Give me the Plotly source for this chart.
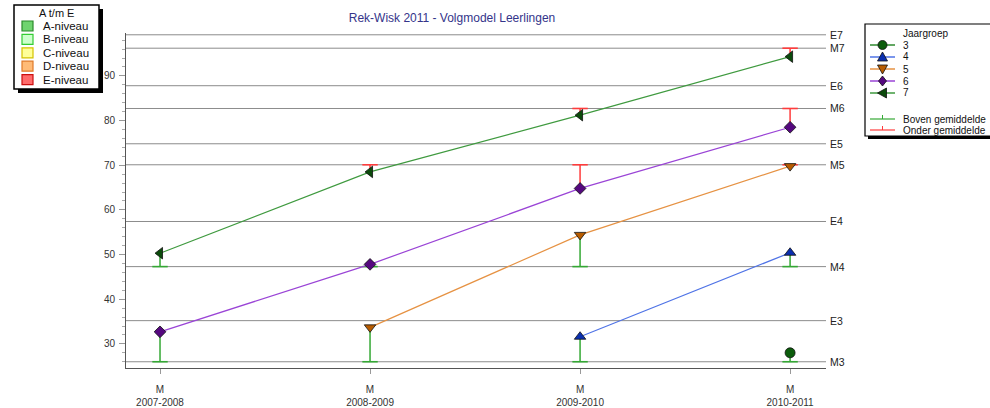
import plotly.graph_objects as go

# ---------------- data ----------------
years = ["2007-2008", "2008-2009", "2009-2010", "2010-2011"]
tick_text = ["M<br>" + y for y in years]

groep3 = [None, None, None, 28.0]
groep4 = [None, None, 31.6, 50.4]
groep5 = [None, 33.7, 54.4, 69.8]
groep6 = [32.7, 47.8, 64.8, 78.5]
groep7 = [50.3, 68.5, 81.2, 94.3]

# average (M-level) each point is compared with
gem3 = [None, None, None, 26.0]
gem4 = [None, None, 26.0, 47.3]
gem5 = [None, 26.0, 47.3, 70.1]
gem6 = [26.0, 47.3, 70.1, 82.7]
gem7 = [47.3, 70.1, 82.7, 96.2]

niveau_labels = ["M3", "E3", "M4", "E4", "M5", "E5", "M6", "E6", "M7", "E7"]
niveau_values = [26.0, 35.2, 47.3, 57.4, 70.1, 74.8, 82.7, 87.8, 96.2, 99.2]

y_ticks = [30, 40, 50, 60, 70, 80, 90]

niveau_legend = ["A-niveau", "B-niveau", "C-niveau", "D-niveau", "E-niveau"]
groep_names = ["3", "4", "5", "6", "7"]

# ---------------- styles ----------------
FONT = "Liberation Sans, Arial, sans-serif"
W, H = 990, 408
ML, MR, MT, MB = 126, 164, 33, 40
PW, PH = W - ML - MR, H - MT - MB


def px2x(px):
    return (px - ML) / PW


def px2y(py):
    return (H - MB - py) / PH


series = [
    dict(vals=groep3, gem=gem3, line="#2f8a2f", fill="#0c5c0c", symbol="circle", size=10,
         path=None),
    dict(vals=groep4, gem=gem4, line="#4f73e6", fill="#0a2fb0", symbol="triangle-up", size=10,
         path="M-5,-4 L5,-4 L0,5 Z"),
    dict(vals=groep5, gem=gem5, line="#e69243", fill="#b85c00", symbol="triangle-down", size=10,
         path="M-5,4 L5,4 L0,-5 Z"),
    dict(vals=groep6, gem=gem6, line="#9a44d6", fill="#55087f", symbol="diamond", size=9,
         path="M0,5 L4,0 L0,-5 L-4,0 Z"),
    dict(vals=groep7, gem=gem7, line="#3f9a3f", fill="#0b4a0b", symbol="triangle-left", size=10,
         path="M-5,0 L4,5 L4,-5 Z"),
]
GREEN_BAR = "#34a834"
RED_BAR = "#ff3c3c"

fig = go.Figure()

# ---------------- error bars (distance to average) ----------------
bars = {GREEN_BAR: dict(x=[], y=[], cx=[], cy=[]), RED_BAR: dict(x=[], y=[], cx=[], cy=[])}
for s in series:
    for yr, v, g in zip(years, s["vals"], s["gem"]):
        if v is None or g is None:
            continue
        col = GREEN_BAR if v >= g else RED_BAR
        b = bars[col]
        b["x"] += [yr, yr, None]
        b["y"] += [v, g, None]
        b["cx"].append(yr)
        b["cy"].append(g)

for col, b in bars.items():
    fig.add_trace(go.Scatter(x=b["x"], y=b["y"], mode="lines",
                             line=dict(color=col, width=1.5), showlegend=False,
                             hoverinfo="skip"))
    fig.add_trace(go.Scatter(x=b["cx"], y=b["cy"], mode="markers",
                             marker=dict(symbol="line-ew", size=11,
                                         line=dict(color=col, width=1.6)),
                             showlegend=False, hoverinfo="skip"))

# ---------------- series ----------------
for name, s in zip(groep_names, series):
    fig.add_trace(go.Scatter(
        x=years, y=s["vals"], mode="lines+markers", name=name,
        line=dict(color=s["line"], width=1.2),
        marker=dict(symbol=s["symbol"], size=s["size"], color=s["fill"],
                    line=dict(color="#111111", width=0.8)),
        showlegend=False))

# ---------------- reference levels ----------------
shapes = []
annotations = []
for lab, val in zip(niveau_labels, niveau_values):
    shapes.append(dict(type="line", xref="paper", yref="y", x0=0, x1=1, y0=val, y1=val,
                       line=dict(color="#8c8c8c", width=1), layer="below"))
    annotations.append(dict(x=1, y=val, xref="paper", yref="y", text=lab,
                            xanchor="left", yanchor="middle", xshift=2, showarrow=False,
                            font=dict(family=FONT, size=10.5, color="#222222")))

# ---------------- left legend (A t/m E) ----------------
swatch_fill = ["#6fd46f", "#ccffcc", "#ffff99", "#ffbb77", "#ff6b6b"]
swatch_line = ["#2a8a2a", "#33cc33", "#d4c400", "#e07a28", "#cc1010"]
shapes.append(dict(type="rect", xref="paper", yref="paper",
                   x0=px2x(18), x1=px2x(103), y0=px2y(9), y1=px2y(93),
                   fillcolor="#000000", line=dict(width=0)))
shapes.append(dict(type="rect", xref="paper", yref="paper",
                   x0=px2x(14), x1=px2x(99), y0=px2y(5), y1=px2y(89),
                   fillcolor="#ffffff", line=dict(color="#000000", width=1.5)))
annotations.append(dict(x=px2x(56), y=px2y(13), xref="paper", yref="paper", text="A t/m E",
                        xanchor="center", yanchor="middle", showarrow=False,
                        font=dict(family=FONT, size=11, color="#111111")))
for i, (lab, fc, lc) in enumerate(zip(niveau_legend, swatch_fill, swatch_line)):
    cy = 26 + i * 13.4
    shapes.append(dict(type="rect", xref="paper", yref="paper",
                       x0=px2x(22), x1=px2x(33), y0=px2y(cy - 5), y1=px2y(cy + 5),
                       fillcolor=fc, line=dict(color=lc, width=1.2)))
    annotations.append(dict(x=px2x(41), y=px2y(cy), xref="paper", yref="paper", text=lab,
                            xanchor="left", yanchor="middle", showarrow=False,
                            font=dict(family=FONT, size=11.5, color="#111111")))

# ---------------- right legend (Jaargroep) ----------------
shapes.append(dict(type="rect", xref="paper", yref="paper",
                   x0=px2x(868), x1=px2x(1000), y0=px2y(27), y1=px2y(139),
                   fillcolor="#000000", line=dict(width=0)))
shapes.append(dict(type="rect", xref="paper", yref="paper",
                   x0=px2x(865), x1=px2x(1000), y0=px2y(24), y1=px2y(136),
                   fillcolor="#ffffff", line=dict(color="#000000", width=1.2)))
annotations.append(dict(x=px2x(901), y=px2y(33), xref="paper", yref="paper", text="Jaargroep",
                        xanchor="left", yanchor="middle", showarrow=False,
                        font=dict(family=FONT, size=10, color="#111111")))
for i, (name, s) in enumerate(zip(groep_names, series)):
    cy = 45 + i * 12
    shapes.append(dict(type="line", xref="paper", yref="paper",
                       x0=px2x(870), x1=px2x(895), y0=px2y(cy), y1=px2y(cy),
                       line=dict(color=s["line"], width=1.5)))
    if s["path"] is None:
        shapes.append(dict(type="circle", xref="paper", yref="paper",
                           xsizemode="pixel", ysizemode="pixel",
                           xanchor=px2x(882.5), yanchor=px2y(cy),
                           x0=-4.5, x1=4.5, y0=-4.5, y1=4.5,
                           fillcolor=s["fill"], line=dict(color="#111111", width=0.8)))
    else:
        shapes.append(dict(type="path", xref="paper", yref="paper",
                           xsizemode="pixel", ysizemode="pixel",
                           xanchor=px2x(882.5), yanchor=px2y(cy), path=s["path"],
                           fillcolor=s["fill"], line=dict(color="#111111", width=0.8)))
    annotations.append(dict(x=px2x(901), y=px2y(cy), xref="paper", yref="paper", text=name,
                            xanchor="left", yanchor="middle", showarrow=False,
                            font=dict(family=FONT, size=10, color="#111111")))

for lab, col, cy in [("Boven gemiddelde", GREEN_BAR, 119), ("Onder gemiddelde", RED_BAR, 130)]:
    shapes.append(dict(type="line", xref="paper", yref="paper",
                       x0=px2x(870), x1=px2x(895), y0=px2y(cy), y1=px2y(cy),
                       line=dict(color=col, width=1.2)))
    shapes.append(dict(type="line", xref="paper", yref="paper",
                       x0=px2x(882.5), x1=px2x(882.5), y0=px2y(cy), y1=px2y(cy - 4),
                       line=dict(color=col, width=1)))
    annotations.append(dict(x=px2x(901), y=px2y(cy), xref="paper", yref="paper", text=lab,
                            xanchor="left", yanchor="middle", showarrow=False,
                            font=dict(family=FONT, size=10, color="#111111")))

fig.update_layout(
    width=W, height=H,
    margin=dict(l=ML, r=MR, t=MT, b=MB, pad=0, autoexpand=False),
    paper_bgcolor="white", plot_bgcolor="white",
    font=dict(family=FONT, size=10, color="#333333"),
    title=dict(text="Rek-Wisk 2011 - Volgmodel Leerlingen", x=452 / W, xref="container",
               xanchor="center", y=1 - 18 / H, yref="container", yanchor="middle",
               font=dict(family=FONT, size=12, color="#34348a")),
    showlegend=False,
    shapes=shapes,
    annotations=annotations,
    xaxis=dict(type="category", categoryorder="array", categoryarray=years,
               range=[-0.162, 3.171], tickmode="array", tickvals=years, ticktext=tick_text,
               automargin=False,
               showgrid=False, zeroline=False, showline=True, linecolor="#555555",
               linewidth=1, ticks="outside", ticklen=5, tickcolor="#999999",
               ticklabelstandoff=7,
               tickfont=dict(family=FONT, size=10, color="#333333")),
    yaxis=dict(range=[24.6, 99.6], tickmode="array", tickvals=y_ticks,
               automargin=False,
               showgrid=False, zeroline=False, showline=True, linecolor="#555555",
               linewidth=1, ticks="outside", ticklen=6, tickcolor="#999999",
               ticklabelstandoff=2,
               tickfont=dict(family=FONT, size=10, color="#333333"),
               minor=dict(dtick=2, tick0=0, ticks="outside", ticklen=3,
                          tickcolor="#aaaaaa", showgrid=False)),
)

fig.write_html("out.html", config={"displayModeBar": False},
               post_script="document.body.style.margin='0';document.body.style.overflow='hidden';")
